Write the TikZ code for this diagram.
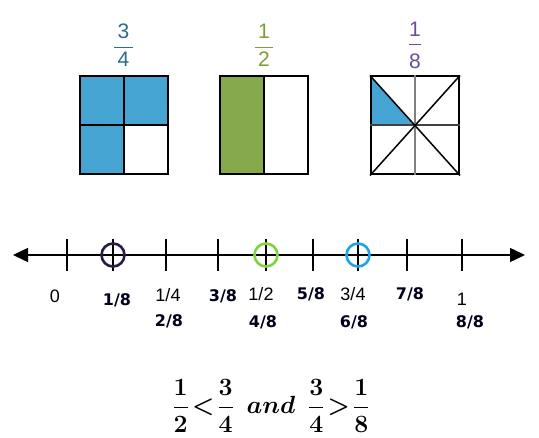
\documentclass[tikz,border=0pt]{standalone}
\usepackage{amsmath}
\usepackage{fontspec}
\setsansfont{Liberation Sans}
\newfontfamily\eighthfont{DejaVu Sans}
\usetikzlibrary{arrows.meta,positioning,backgrounds}
\definecolor{fqblue}{HTML}{45A4D2}
\definecolor{fqgreen}{HTML}{86A94C}
\definecolor{fqteal}{HTML}{2C6C8C}
\definecolor{fqolive}{HTML}{7C9E34}
\definecolor{fqpurple}{HTML}{6A4C98}
\definecolor{rdark}{HTML}{2B1A48}
\definecolor{rgreen}{HTML}{7ED43A}
\definecolor{rblue}{HTML}{1EA2EA}

\begin{document}
\begin{tikzpicture}[
  x=1pt,y=-1pt,
  sq/.style={draw=black,line width=2pt,minimum width=88pt,minimum height=98pt,
             inner sep=0pt},
  part/.style={draw=black,line width=2pt},
  topfrac/.style={font=\fontsize{21}{24}\selectfont},
  numline/.style={line width=1.5pt,{Triangle[length=15pt,width=14pt]}-{Triangle[length=15pt,width=14pt]}},
  tick/.style={line width=1.2pt},
  ring/.style={circle,line width=2.6pt,minimum size=23pt,inner sep=0pt},
  whole/.style={font=\sffamily\fontsize{18}{20}\selectfont,inner sep=0pt},
  eighth/.style={font=\eighthfont\bfseries\fontsize{16}{18}\selectfont,text=black!90!blue,inner sep=0pt}
]
\useasboundingbox (0,0) rectangle (539,438);

% fraction models
\node[sq] (q1) at (123.5,125.5) {};
\node[sq] (q2) at (264,125.5) {};
\node[sq] (q3) at (415,125.5) {};
\begin{scope}[on background layer]
  \fill[fqblue] (q1.north west) rectangle (q1.east);
  \fill[fqblue] (q1.west) rectangle (q1.south);
  \fill[fqgreen] (q2.north west) rectangle (q2.south);
  \fill[fqblue] (q3.north west) -- (q3.west) -- (q3.center) -- cycle;
\end{scope}
\draw[part] (q1.north) -- (q1.south);
\draw[part] (q1.west) -- (q1.east);
\draw[part] (q2.north) -- (q2.south);
\draw[part,draw=black!50] (q3.north) -- (q3.south);
\draw[part,draw=black!75] (q3.west) -- (q3.east);
\draw[part,line width=1.5pt] (q3.north west) -- (q3.south east);
\draw[part,line width=1.5pt] (q3.south west) -- (q3.north east);

\node[topfrac,text=fqteal,above=5pt of q1] (f1) {$\dfrac{\,\textsf{3}\,}{\,\textsf{4}\,}$};
\node[topfrac,text=fqolive,above=5pt of q2] (f2) {$\dfrac{\,\textsf{1}\,}{\,\textsf{2}\,}$};
\node[topfrac,text=fqpurple,above=3pt of q3] (f3) {$\dfrac{\textsf{1}}{\rule{0pt}{21pt}\textsf{8}}$};

% number line
\coordinate (L) at (13,255);
\coordinate (R) at (525,255);
\draw[numline] (L) -- (R);
\foreach \x/\n in {67/t0,113/t1,166/t2,218/t3,266/t4,313/t5,358/t6,407/t7,462/t8}{
  \coordinate (\n) at (\x,255);
  \draw[tick] ([yshift=16pt]\n) -- ([yshift=-16pt]\n);
}
\node[ring,draw=rdark] (r1) at (t1) {};
\node[ring,draw=rgreen] (r4) at (t4) {};
\node[ring,draw=rblue] (r6) at (t6) {};

% labels
\foreach \x/\y/\txt in {55/296/0,168/295/{1/4},261/294/{1/2},353/294/{3/4},462/299/1}
  \node[whole] at (\x,\y) {\txt};
\foreach \x/\y/\txt in {117/300/{1/8},169/321/{2/8},223/296/{3/8},263/322/{4/8},311/294/{5/8},354/322/{6/8},410/294/{7/8},470/322/{8/8}}
  \node[eighth] at (\x,\y) {\txt};

% comparison
\node[font=\fontsize{23}{27}\selectfont\boldmath] (cmp) at (271,406)
  {$\dfrac{1}{2}\!<\!\dfrac{3}{4}$\;\;{\fontsize{30}{34}\selectfont$and$}\;\;$\dfrac{3}{4}\!>\!\dfrac{1}{8}$};
\end{tikzpicture}
\end{document}
